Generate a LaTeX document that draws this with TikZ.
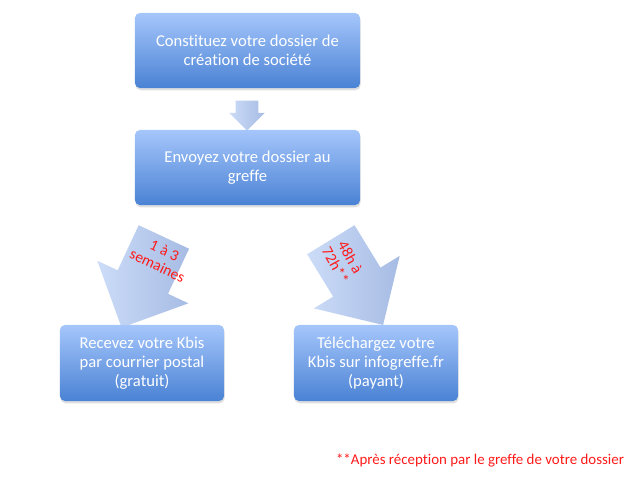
\documentclass[tikz,border=0pt]{standalone}
\usepackage{fontspec}
\setmainfont{Carlito}[Ligatures=NoCommon]
\usetikzlibrary{shapes.arrows,shadows}
\definecolor{boxTop}{HTML}{A5C6FB}
\definecolor{boxBot}{HTML}{4A82D4}
\definecolor{arrowTop}{HTML}{CCDCF8}
\definecolor{arrowBot}{HTML}{A7BCE4}
\definecolor{textRed}{HTML}{FF1A1A}

\begin{document}
\begin{tikzpicture}[x=0.025cm,y=-0.025cm,
stepBox/.style={shape=rectangle,rounded corners=3.5pt,top color=boxTop,bottom color=boxBot,
    text=white,align=center,font=\fontsize{11.8}{13.5}\selectfont,inner sep=0,
    drop shadow={shadow xshift=0.4pt,shadow yshift=-1.6pt,opacity=0.25}},
wideBox/.style={stepBox,minimum width=5.625cm,minimum height=1.875cm},
narrowBox/.style={stepBox,minimum width=4.1cm,minimum height=1.9cm},
bigArrow/.style={shape=single arrow,single arrow head extend=0.5625cm,
    minimum height=2.5cm,inner xsep=0,inner ysep=0.6875cm,left color=arrowTop,right color=arrowBot},
smallArrow/.style={shape=single arrow,single arrow head extend=0.1625cm,
    minimum height=0.75cm,inner xsep=0,inner ysep=0.275cm,left color=arrowTop,right color=arrowBot},
redLabel/.style={text=textRed,align=center,font=\fontsize{11}{12}\selectfont,inner sep=0}
]
\useasboundingbox (0,0) rectangle (640,483);
\node[wideBox] (create) at (247.5,50.5) {Constituez votre dossier de\\création de société};
\node[smallArrow,rotate=-90] (down) at (247,110) {};
\node[wideBox] (send) at (247.5,167.5) {Envoyez votre dossier au\\greffe};
\node[bigArrow,rotate=-115] (postArrow) at (148.6,269.7) {};
\node[bigArrow,rotate=-58.5] (webArrow) at (349.7,270.5) {};
\node[redLabel,rotate=-25] (postDelay) at (161,258) {1 à 3\\semaines};
\node[redLabel,rotate=-61] (webDelay) at (343,261) {48h à\\72h**};
\node[narrowBox] (post) at (142,363) {Recevez votre Kbis\\par courrier postal\\(gratuit)};
\node[narrowBox] (web) at (376,363) {Téléchargez votre\\Kbis sur infogreffe.fr\\(payant)};
\node[text=textRed,font=\fontsize{10.6}{12}\selectfont,inner sep=0] (note) at (480,460)
    {**Après réception par le greffe de votre dossier};
\end{tikzpicture}
\end{document}
